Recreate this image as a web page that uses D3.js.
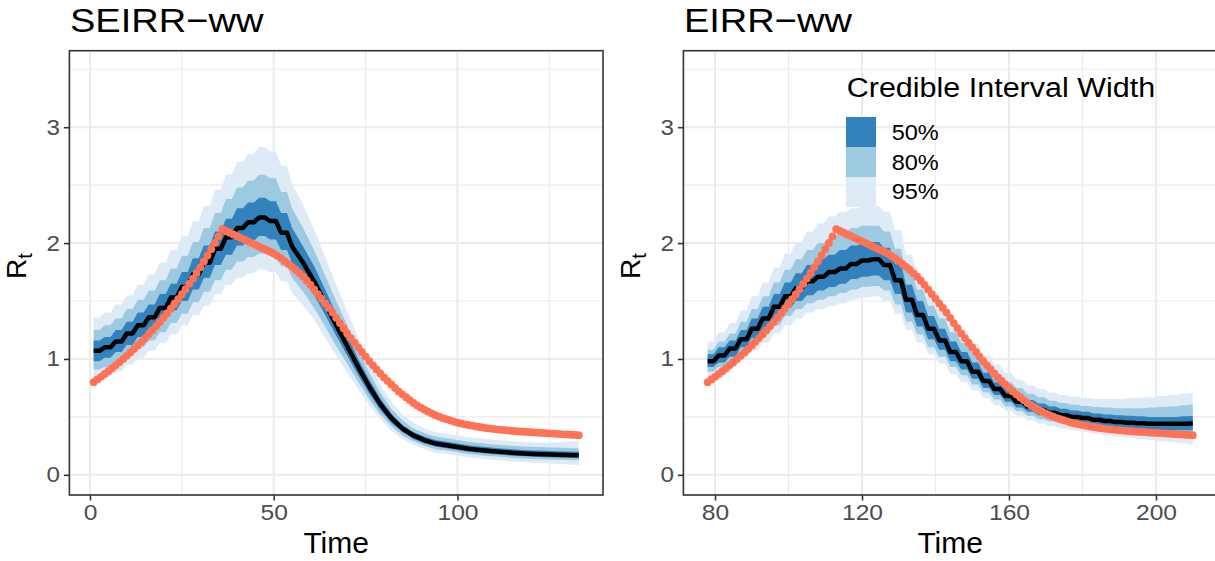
<!DOCTYPE html>
<html>
<head>
<meta charset="utf-8">
<script src="https://cdn.jsdelivr.net/npm/d3@7"></script>
<style>
  body { margin: 0; background: #fff; }
  text { font-family: "Liberation Sans", Arial, sans-serif; }
</style>
</head>
<body>
<script>
// true Rt, one value per day (day 1..133), same curve in both panels
var trueRt = [
  0.800, 0.823, 0.846, 0.870, 0.894, 0.919, 0.945, 0.972, 0.999, 1.027,
  1.056, 1.086, 1.117, 1.148, 1.180, 1.214, 1.248, 1.283, 1.319, 1.356,
  1.395, 1.434, 1.474, 1.516, 1.559, 1.603, 1.648, 1.694, 1.742, 1.791,
  1.842, 1.894, 1.947, 2.002, 2.058, 2.120,
  2.105, 2.090, 2.075, 2.060, 2.045, 2.030, 2.015, 2.000, 1.985, 1.970,
  1.955, 1.940, 1.925, 1.910, 1.890, 1.870, 1.845, 1.820, 1.795, 1.770,
  1.740, 1.710, 1.675, 1.640, 1.600, 1.560, 1.520, 1.480, 1.440, 1.400,
  1.355, 1.310, 1.265, 1.220, 1.180, 1.140, 1.100, 1.060, 1.020, 0.980,
  0.945, 0.910, 0.875, 0.840, 0.810, 0.780, 0.750, 0.720, 0.695, 0.670,
  0.645, 0.620, 0.600, 0.580, 0.562, 0.545, 0.530, 0.515, 0.502, 0.490,
  0.480, 0.470, 0.460, 0.450, 0.443, 0.436, 0.430, 0.424, 0.418, 0.413,
  0.408, 0.403, 0.399, 0.395, 0.391, 0.388, 0.385, 0.382, 0.379, 0.376,
  0.374, 0.372, 0.370, 0.368, 0.366, 0.364, 0.362, 0.360, 0.358, 0.356,
  0.354, 0.352, 0.350, 0.348, 0.346, 0.344, 0.342
];

// SEIRR-ww posterior, one value per 3-day step starting day 1
var seirrMed  = [1.07,1.10,1.15,1.22,1.29,1.36,1.44,1.53,1.62,1.73,1.83,1.95,2.05,2.13,2.18,2.22,2.19,2.09,1.97,1.83,1.67,1.48,1.29,1.11,0.93,0.76,0.61,0.49,0.40,0.34,0.30,0.27,0.255,0.24,0.225,0.215,0.205,0.198,0.19,0.185,0.18,0.177,0.174,0.171,0.17];
var seirrLo95 = [0.83,0.85,0.89,0.95,1.01,1.07,1.14,1.21,1.29,1.38,1.46,1.56,1.64,1.70,1.74,1.77,1.75,1.67,1.57,1.46,1.34,1.18,1.03,0.88,0.74,0.60,0.48,0.38,0.31,0.26,0.22,0.19,0.18,0.165,0.15,0.14,0.13,0.125,0.115,0.11,0.105,0.10,0.095,0.09,0.085];
var seirrLo80 = [0.91,0.93,0.97,1.03,1.10,1.16,1.23,1.31,1.39,1.49,1.58,1.68,1.77,1.84,1.88,1.91,1.89,1.80,1.70,1.58,1.44,1.28,1.11,0.96,0.80,0.65,0.52,0.42,0.34,0.29,0.25,0.22,0.21,0.195,0.18,0.17,0.16,0.155,0.145,0.14,0.135,0.132,0.13,0.127,0.125];
var seirrLo50 = [0.98,1.01,1.06,1.12,1.19,1.26,1.33,1.42,1.50,1.60,1.70,1.81,1.90,1.98,2.02,2.06,2.03,1.94,1.83,1.70,1.55,1.38,1.20,1.03,0.86,0.70,0.56,0.45,0.37,0.31,0.27,0.245,0.23,0.215,0.20,0.19,0.18,0.175,0.165,0.16,0.155,0.152,0.15,0.147,0.145];
var seirrHi50 = [1.16,1.19,1.25,1.32,1.40,1.47,1.56,1.65,1.75,1.87,1.98,2.10,2.21,2.30,2.35,2.39,2.36,2.26,2.13,1.97,1.80,1.60,1.39,1.20,1.00,0.82,0.66,0.53,0.43,0.37,0.33,0.30,0.285,0.27,0.255,0.245,0.235,0.228,0.22,0.215,0.21,0.207,0.204,0.201,0.20];
var seirrHi80 = [1.25,1.29,1.35,1.43,1.51,1.59,1.68,1.78,1.89,2.01,2.13,2.26,2.38,2.48,2.54,2.59,2.56,2.44,2.30,2.13,1.94,1.72,1.50,1.29,1.08,0.88,0.71,0.57,0.47,0.40,0.36,0.33,0.315,0.30,0.285,0.275,0.265,0.258,0.25,0.245,0.24,0.237,0.235,0.232,0.23];
var seirrHi95 = [1.36,1.40,1.47,1.55,1.64,1.73,1.83,1.94,2.06,2.19,2.32,2.46,2.59,2.70,2.77,2.83,2.79,2.67,2.51,2.33,2.12,1.88,1.64,1.41,1.18,0.97,0.78,0.63,0.52,0.45,0.40,0.37,0.355,0.34,0.325,0.315,0.305,0.298,0.29,0.285,0.28,0.28,0.28,0.285,0.29];

// EIRR-ww posterior, one value per 3-day step starting day 78
var eirrMed  = [0.98,1.03,1.09,1.17,1.26,1.35,1.45,1.54,1.61,1.67,1.71,1.75,1.78,1.82,1.85,1.86,1.81,1.68,1.51,1.38,1.26,1.16,1.06,0.98,0.89,0.81,0.74,0.68,0.63,0.59,0.56,0.535,0.515,0.50,0.49,0.475,0.465,0.455,0.45,0.445,0.44,0.44,0.44,0.44,0.445];
var eirrLo95 = [0.85,0.89,0.93,1.00,1.07,1.14,1.22,1.29,1.35,1.40,1.43,1.46,1.48,1.51,1.53,1.54,1.50,1.39,1.25,1.14,1.04,0.96,0.87,0.80,0.73,0.66,0.60,0.55,0.51,0.47,0.44,0.42,0.40,0.385,0.37,0.355,0.34,0.33,0.32,0.31,0.30,0.29,0.28,0.27,0.26];
var eirrLo80 = [0.89,0.93,0.98,1.05,1.13,1.21,1.29,1.37,1.43,1.48,1.51,1.54,1.57,1.60,1.62,1.63,1.59,1.47,1.32,1.21,1.10,1.02,0.93,0.86,0.78,0.71,0.65,0.59,0.55,0.51,0.48,0.46,0.44,0.425,0.415,0.40,0.39,0.38,0.37,0.36,0.355,0.35,0.345,0.34,0.335];
var eirrLo50 = [0.93,0.97,1.02,1.10,1.18,1.26,1.35,1.44,1.50,1.55,1.59,1.62,1.65,1.69,1.71,1.72,1.68,1.56,1.40,1.28,1.17,1.08,0.98,0.91,0.83,0.75,0.69,0.63,0.58,0.545,0.515,0.49,0.47,0.455,0.445,0.43,0.42,0.41,0.40,0.395,0.39,0.385,0.385,0.385,0.385];
var eirrHi50 = [1.04,1.10,1.16,1.25,1.35,1.45,1.56,1.66,1.74,1.81,1.86,1.90,1.94,1.98,2.00,2.01,1.96,1.82,1.64,1.50,1.37,1.26,1.15,1.06,0.97,0.88,0.80,0.74,0.69,0.645,0.615,0.59,0.57,0.555,0.545,0.53,0.52,0.515,0.51,0.505,0.50,0.50,0.50,0.505,0.51];
var eirrHi80 = [1.08,1.15,1.22,1.32,1.43,1.54,1.66,1.77,1.86,1.94,2.00,2.05,2.09,2.13,2.15,2.15,2.10,1.95,1.75,1.60,1.46,1.35,1.23,1.14,1.04,0.95,0.87,0.80,0.75,0.70,0.67,0.64,0.62,0.605,0.595,0.585,0.58,0.575,0.575,0.575,0.58,0.585,0.59,0.60,0.61];
var eirrHi95 = [1.15,1.23,1.31,1.42,1.54,1.66,1.79,1.91,2.01,2.10,2.17,2.23,2.27,2.30,2.32,2.32,2.27,2.11,1.90,1.74,1.59,1.46,1.34,1.24,1.13,1.03,0.95,0.88,0.82,0.77,0.74,0.71,0.69,0.675,0.665,0.655,0.655,0.655,0.66,0.665,0.67,0.68,0.69,0.70,0.71];

var levelNames  = ["50%", "80%", "95%"];
var levelColors = ["#3182BD", "#9ECAE1", "#DEEBF7"];

var yTicks = [0, 1, 2, 3], yMinor = [0.5, 1.5, 2.5, 3.5];
var seirrTicks = [0, 50, 100], seirrMinor = [25, 75, 125];
var eirrTicks = [80, 120, 160, 200], eirrMinor = [100, 140, 180];

var width = 1215, height = 561;
var plotTop = 50.7, plotBottom = 495, panelW = 533.6;

var svg = d3.select("body").append("svg")
  .attr("width", width).attr("height", height)
  .style("display", "block");

var y = d3.scaleLinear().domain([-0.174, 3.66]).range([plotBottom, plotTop]);

var panels = [
  { title: "SEIRR\u2212ww", left: 69.4, dom: [-5.6, 139.6], ticks: seirrTicks, minor: seirrMinor,
    start: 1, redStart: 1, med: seirrMed, flatUntil: 52,
    bands: [[seirrLo95, seirrHi95], [seirrLo80, seirrHi80], [seirrLo50, seirrHi50]], legend: false },
  { title: "EIRR\u2212ww", left: 683.4, dom: [71.4, 216.6], ticks: eirrTicks, minor: eirrMinor,
    start: 78, redStart: 78, med: eirrMed, flatUntil: 999,
    bands: [[eirrLo95, eirrHi95], [eirrLo80, eirrHi80], [eirrLo50, eirrHi50]], legend: true }
];

// each estimate holds for a 3-day block, with a sloped riser to the next block
// (after flatUntil the blocks just join up, as the SEIRR decline looks smooth)
function stepRows(times, series, flatUntil) {
  var out = [];
  times.forEach(function(t, i) {
    var row = series.map(function(s) { return s[i]; });
    out.push({ t: t, v: row });
    if (i < times.length - 1 && t <= flatUntil) out.push({ t: t + 1.6, v: row });
  });
  return out;
}

// text that is a little wider than the plain font, like the reference
function wideText(parent, x, yy, str, size, sx) {
  return parent.append("text")
    .attr("transform", "translate(" + x + "," + yy + ") scale(" + sx + ",1)")
    .style("font-size", size + "px").text(str);
}

panels.forEach(function(p) {
  var x = d3.scaleLinear().domain(p.dom).range([p.left, p.left + panelW]);
  var g = svg.append("g");
  var times = d3.range(p.start, p.start + 3 * p.med.length, 3);

  g.append("rect").attr("x", p.left).attr("y", plotTop)
    .attr("width", panelW).attr("height", plotBottom - plotTop).attr("fill", "#fff");

  // grid
  g.selectAll(".vminor").data(p.minor).enter().append("line")
    .attr("x1", d => x(d)).attr("x2", d => x(d)).attr("y1", plotTop).attr("y2", plotBottom)
    .attr("stroke", "#EBEBEB").attr("stroke-width", 1.1);
  g.selectAll(".hminor").data(yMinor).enter().append("line")
    .attr("x1", p.left).attr("x2", p.left + panelW).attr("y1", d => y(d)).attr("y2", d => y(d))
    .attr("stroke", "#EBEBEB").attr("stroke-width", 1.1);
  g.selectAll(".vmajor").data(p.ticks).enter().append("line")
    .attr("x1", d => x(d)).attr("x2", d => x(d)).attr("y1", plotTop).attr("y2", plotBottom)
    .attr("stroke", "#EBEBEB").attr("stroke-width", 2);
  g.selectAll(".hmajor").data(yTicks).enter().append("line")
    .attr("x1", p.left).attr("x2", p.left + panelW).attr("y1", d => y(d)).attr("y2", d => y(d))
    .attr("stroke", "#EBEBEB").attr("stroke-width", 2);

  // credible bands
  p.bands.forEach(function(b, k) {
    var rows = stepRows(times, b, p.flatUntil);
    var area = d3.area().x(d => x(d.t)).y0(d => y(d.v[0])).y1(d => y(d.v[1]));
    g.append("path").datum(rows).attr("d", area)
      .attr("fill", levelColors[2 - k]);
  });

  // posterior median
  var medRows = stepRows(times, [p.med], p.flatUntil);
  g.append("path").datum(medRows)
    .attr("d", d3.line().x(d => x(d.t)).y(d => y(d.v[0])))
    .attr("fill", "none").attr("stroke", "#000").attr("stroke-width", 4.5)
    .attr("stroke-linejoin", "round");

  // true Rt
  g.selectAll(".truth").data(trueRt).enter().append("circle")
    .attr("cx", (d, i) => x(p.redStart + i)).attr("cy", d => y(d))
    .attr("r", 3.9).attr("fill", "#FF7256");

  // border
  g.append("rect").attr("x", p.left).attr("y", plotTop)
    .attr("width", panelW).attr("height", plotBottom - plotTop)
    .attr("fill", "none").attr("stroke", "#333333").attr("stroke-width", 1.6);

  // axes
  var xa = g.append("g").attr("transform", "translate(0," + plotBottom + ")")
    .call(d3.axisBottom(x).tickValues(p.ticks).tickFormat(d3.format("d"))
      .tickSize(5.5).tickPadding(4).tickSizeOuter(0));
  var ya = g.append("g").attr("transform", "translate(" + p.left + ",0)")
    .call(d3.axisLeft(y).tickValues(yTicks).tickFormat(d3.format("d"))
      .tickSize(5.5).tickPadding(3).tickSizeOuter(0));
  [xa, ya].forEach(function(a) {
    a.select(".domain").remove();
    a.selectAll(".tick line").attr("stroke", "#333333").attr("stroke-width", 1.6);
    a.selectAll(".tick text").attr("fill", "#4D4D4D")
      .style("font-size", "22px").style("font-family", "'Liberation Sans', Arial, sans-serif");
  });
  xa.selectAll(".tick text").attr("transform", "scale(1.12,1)");
  ya.selectAll(".tick text").attr("transform", "scale(1.1,1)");

  wideText(g, p.left + 0.5, 32, p.title, 34, 1.12);

  g.append("text").attr("x", p.left + panelW / 2).attr("y", 553)
    .attr("text-anchor", "middle").style("font-size", "30px").text("Time");

  var yl = g.append("text")
    .attr("transform", "translate(" + (p.left - 43.5) + ",266) rotate(-90)")
    .attr("text-anchor", "middle").style("font-size", "28px");
  yl.append("tspan").text("R");
  yl.append("tspan").attr("dy", "0.3em").style("font-size", "20px").text("t");

  if (p.legend) {
    var lg = g.append("g");
    wideText(lg, 846.7, 97.3, "Credible Interval Width", 27, 1.13);
    levelNames.forEach(function(name, i) {
      lg.append("rect").attr("x", 846).attr("y", 117 + i * 30)
        .attr("width", 30).attr("height", 30).attr("fill", levelColors[i]);
      wideText(lg, 891.7, 140 + i * 29.7, name, 22, 1.07);
    });
  }
});
</script>
</body>
</html>
